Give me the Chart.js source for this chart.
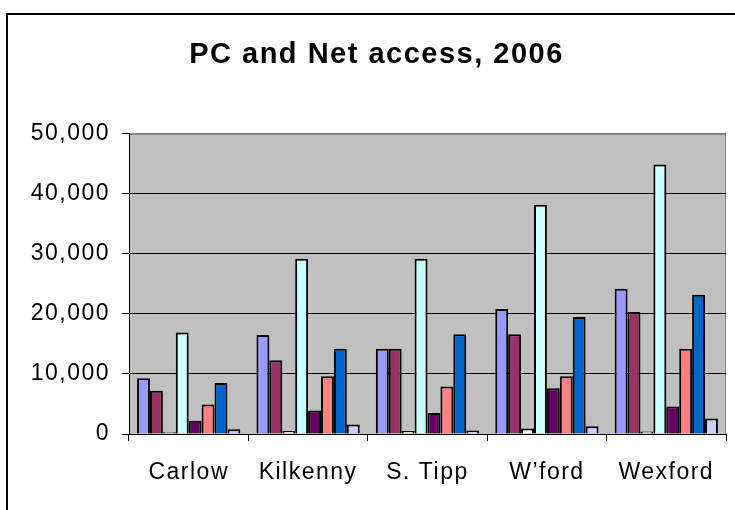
<!DOCTYPE html>
<html>
<head>
<meta charset="utf-8">
<title>PC and Net access, 2006</title>
<script src="https://cdn.jsdelivr.net/npm/chart.js@4.4.1/dist/chart.umd.min.js"></script>
<style>
  body { margin: 0; background: #fff; }
  #wrap { width: 735px; height: 510px; position: relative; }
</style>
</head>
<body>
<div id="wrap"><canvas id="myChart"></canvas></div>
<script>
'use strict';

// counties along the x axis
let counties = ['Carlow', 'Kilkenny', 'S. Tipp', 'W\u2019ford', 'Wexford'];

// eight series, no legend in the picture so just numbered
let series1 = [9300, 16500, 14200, 20800, 24200];
let series2 = [7200, 12300, 14200, 16600, 20300];
let series3 = [300, 500, 500, 900, 400];
let series4 = [16900, 29200, 29200, 38200, 44900];
let series5 = [2200, 3900, 3500, 7600, 4600];
let series6 = [4900, 9600, 7900, 9600, 14200];
let series7 = [8500, 14200, 16600, 19500, 23200];
let series8 = [800, 1600, 600, 1300, 2600];

let yTicks = [0, 10000, 20000, 30000, 40000, 50000];

// old excel palette
let colours = ['#9999FF', '#993366', '#FFFFCC', '#CCFFFF', '#660066', '#FF8080', '#0066CC', '#CCCCFF'];
let allSeries = [series1, series2, series3, series4, series5, series6, series7, series8];

let spacing = '1.5px';

// grey plot area + the black frame round the whole chart
const chartFrame = {
  id: 'chartFrame',
  beforeUpdate(chart) {
    chart.ctx.letterSpacing = spacing;
  },
  beforeDraw(chart) {
    let ctx = chart.ctx;
    let a = chart.chartArea;
    ctx.save();
    ctx.fillStyle = '#fff';
    ctx.fillRect(0, 0, chart.width, chart.height);
    ctx.fillStyle = '#C0C0C0';
    ctx.fillRect(a.left, a.top, a.right - a.left, a.bottom - a.top);
    ctx.strokeStyle = '#808080';
    ctx.lineWidth = 1;
    ctx.strokeRect(a.left + 0.5, a.top + 0.5, a.right - a.left - 1, a.bottom - a.top);
    ctx.strokeStyle = '#000';
    ctx.lineWidth = 2;
    ctx.strokeRect(7, 14, 800, 600);
    ctx.restore();
    ctx.letterSpacing = spacing;
  }
};

let datasets = [];
for (let i = 0; i < allSeries.length; i++) {
  datasets.push({
    label: 'Series ' + (i + 1),
    data: allSeries[i],
    backgroundColor: colours[i],
    borderColor: '#000',
    borderWidth: 2,
    barPercentage: 1,
    categoryPercentage: 0.865
  });
}

Chart.defaults.font.family = '"Liberation Sans", Arial, sans-serif';
Chart.defaults.color = '#000';

const config = {
  type: 'bar',
  data: {
    labels: counties,
    datasets: datasets
  },
  options: {
    responsive: true,
    maintainAspectRatio: false,
    animation: false,
    layout: {
      padding: { left: 27, right: 9, top: 0, bottom: 0 }
    },
    plugins: {
      legend: { display: false },
      tooltip: { enabled: false },
      title: {
        display: true,
        text: 'PC and Net access, 2006',
        color: '#000',
        font: { size: 29, weight: 'bold' },
        padding: { top: 38, bottom: 61 }
      }
    },
    scales: {
      x: {
        grid: {
          display: true,
          drawOnChartArea: false,
          drawTicks: true,
          tickLength: 7,
          color: '#000',
          offset: true
        },
        border: { display: true, color: '#000', width: 1 },
        ticks: {
          font: { size: 23 },
          padding: 18,
          maxRotation: 0,
          autoSkip: false
        },
        afterFit(scale) {
          scale.height = 76;
        }
      },
      y: {
        min: 0,
        max: 50000,
        afterBuildTicks(scale) {
          scale.ticks = yTicks.map(v => ({ value: v }));
        },
        grid: {
          color: ctx => (ctx.tick && ctx.tick.value === 50000) ? '#808080' : '#000',
          tickColor: '#000',
          tickLength: 7,
          lineWidth: 1
        },
        border: { display: true, color: '#000', width: 1 },
        ticks: {
          font: { size: 23 },
          padding: 12,
          callback: v => v.toLocaleString('en-US')
        },
        afterFit(scale) {
          scale.width = 102;
        }
      }
    }
  },
  plugins: [chartFrame]
};

const myChart = new Chart(document.getElementById('myChart'), config);
</script>
</body>
</html>
